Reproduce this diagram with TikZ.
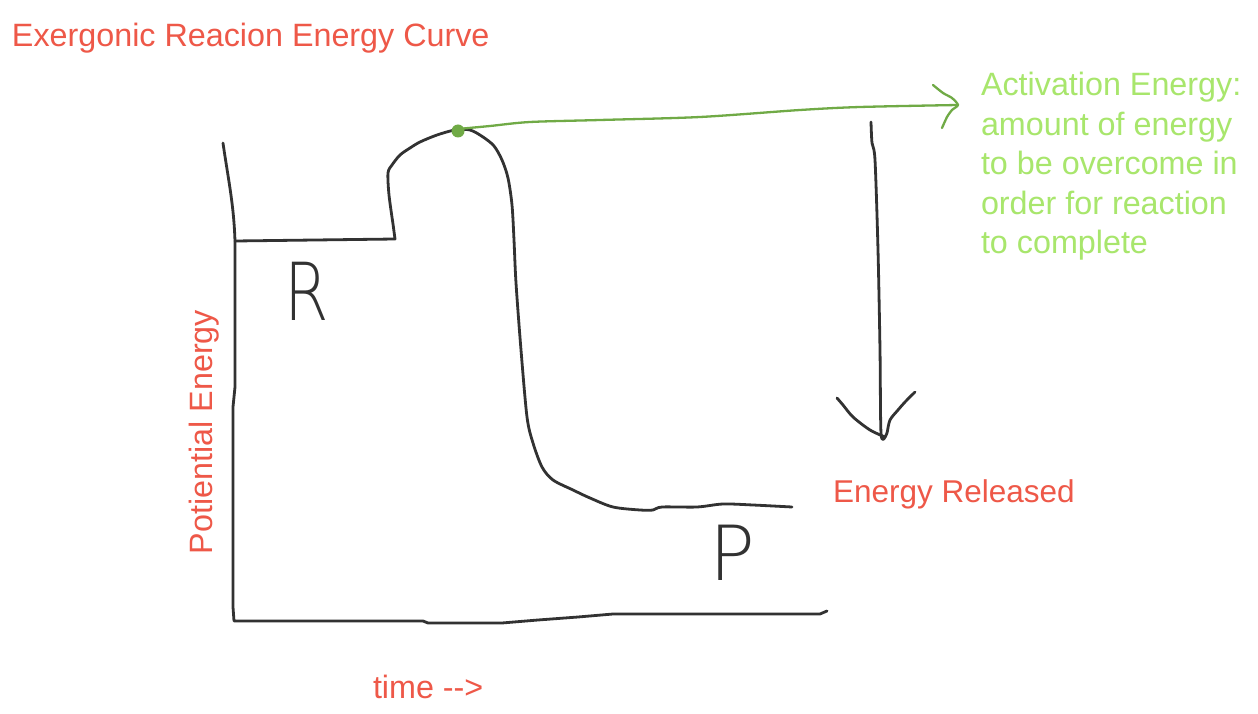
\documentclass[tikz,border=0pt]{standalone}
\usepackage{fontspec}
\newfontfamily\lsans{Liberation Sans}
\newfontfamily\thinfont{DejaVu Sans ExtraLight}
\definecolor{redtxt}{RGB}{238,88,72}
\definecolor{greentxt}{RGB}{168,230,108}
\definecolor{greenline}{RGB}{112,170,70}
\definecolor{ink}{RGB}{50,50,50}
\tikzset{
  sketch/.style={draw=ink, line width=2.8pt, line cap=round, line join=round},
  gline/.style={draw=greenline, line width=2.3pt, line cap=round, line join=round},
  lbl/.style={inner sep=0pt, outer sep=0pt, font=\lsans\fontsize{32.3}{39.5}\selectfont},
  hand/.style={inner sep=0pt, outer sep=0pt, text=ink},
}
\begin{document}
\begin{tikzpicture}[x=1pt,y=-1pt]
\useasboundingbox[fill=white] (0,0) rectangle (1258,714);

% texts
\node[lbl, anchor=base west, text=redtxt] (title) at (12,47) {Exergonic Reacion Energy Curve};
\node[lbl, anchor=base west, text=greentxt, align=left] (act) at (981,254)
  {Activation Energy:\\amount of energy\\to be overcome in\\order for reaction\\to complete};
\node[lbl, anchor=base west, text=redtxt, font=\lsans\fontsize{31.5}{38}\selectfont] (rel) at (833,502) {Energy Released};
\node[lbl, anchor=base west, text=redtxt] (time) at (373,698) {time -->};
\node[lbl, anchor=base, text=redtxt, rotate=90] (pe) at (212,432) {Potiential Energy};
\node[hand, anchor=base west, font=\thinfont\fontsize{80}{80}\selectfont] (R) at (284,320) {\scalebox{0.8}[1]{R}};
\node[hand, anchor=base west, font=\thinfont\fontsize{76}{76}\selectfont] (P) at (709,580) {P};

% axes
\draw[sketch] (223,143) .. controls (228,178) and (234,205) .. (235,242)
  -- (235,387) -- (233,407) -- (233,607) -- (234,621)
  -- (423,621) -- (428,623) -- (502,623) -- (538,620) -- (578,617) -- (613,614)
  -- (820,614) -- (827,611);

% energy curve
\draw[sketch] (235,241) -- (395,239) -- plot[smooth, tension=0.5] coordinates {
  (393,224) (389,195) (388,173) (392,165) (400,155) (410,148) (420,142)
  (437,135) (455,130) (470,130) (483,137) (494,146) (502,160) (508,178)
  (512,205) (514,240) (516,283) (521,350) (527,417) (533,443)
  (542,467) (553,480) (573,490) (590,498) (613,507) (640,510) (653,510)
  (662,507) (697,507) (723,504) (753,505) (792,507)};

% activation energy arrow
\fill[greenline] (458,131) circle (6.5);
\coordinate (peak) at (458,130);
\coordinate (gtip) at (958,105);
\draw[gline] plot[smooth, tension=0.5] coordinates {(458,129) (490,126) (530,122) (600,120)
  (700,117) (800,110) (860,107) (958,105)};
\draw[gline] plot[smooth, tension=0.4] coordinates {(933,85) (943,93) (952,98) (958,105)
  (952,110) (947,117) (942,128)};

% energy released arrow
\draw[sketch] plot[smooth, tension=0.5] coordinates {(871,122) (872,143) (875,160)
  (878,250) (880,350) (881,433) (885,437)};
\draw[sketch] plot[smooth, tension=0.5] coordinates {(837,398) (843,405) (853,417)
  (870,430) (885,437)};
\draw[sketch] plot[smooth, tension=0.5] coordinates {(915,392) (905,402) (898,410)
  (890,420) (887,433) (885,437)};
\end{tikzpicture}
\end{document}
